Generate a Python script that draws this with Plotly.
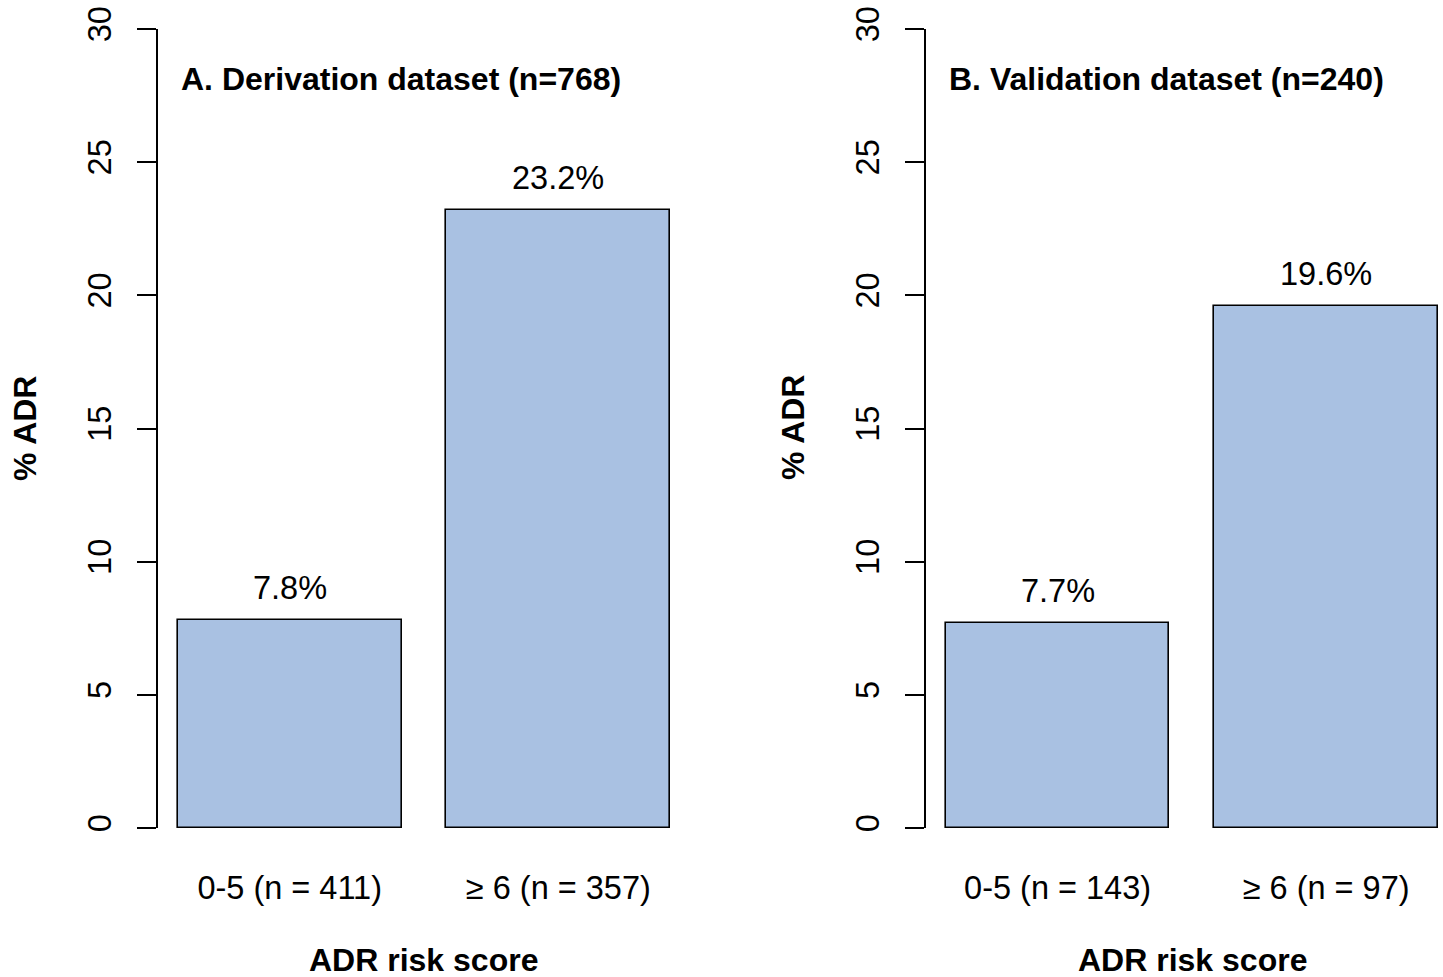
import plotly.graph_objects as go

categories_a = ["0-5 (n = 411)", "≥ 6 (n = 357)"]
values_a = [7.8, 23.2]
categories_b = ["0-5 (n = 143)", "≥ 6 (n = 97)"]
values_b = [7.7, 19.6]
titles = ["A. Derivation dataset (n=768)", "B. Validation dataset (n=240)"]
y_ticks = [0, 5, 10, 15, 20, 25, 30]
bar_pos = [0.7, 1.9]

W, H = 1443, 977
FONT = "Liberation Sans, Arial, Helvetica, sans-serif"
FS = 32.5
FSB = 32
BAR_COLOR = "#A9C1E2"

fig = go.Figure()

panels = [
    (categories_a, values_a, "x", "y", (158, 690), [0.112, 2.488]),
    (categories_b, values_b, "x2", "y2", (926, 1443), [0.112, 2.4223]),
]

y_dom = [1 - 828 / H, 1 - 29 / H]

for i, (cats, vals, xa, ya, (px0, px1), xr) in enumerate(panels):
    fig.add_trace(go.Bar(
        x=bar_pos, y=vals, width=1.0, xaxis=xa, yaxis=ya,
        marker=dict(color=BAR_COLOR, line=dict(color="black", width=1.6)),
        hoverinfo="skip", showlegend=False,
    ))
    suffix = "" if i == 0 else "2"
    fig.layout["xaxis" + suffix] = dict(
        domain=[px0 / W, px1 / W], range=xr, anchor=ya,
        tickvals=bar_pos, ticktext=cats, showgrid=False, zeroline=False,
        showline=False, ticks="", tickfont=dict(size=FS, family=FONT, color="black"),
        ticklabelstandoff=37, automargin=False, fixedrange=True,
    )
    fig.layout["yaxis" + suffix] = dict(
        domain=y_dom, range=[0, 30], anchor=xa,
        tickvals=y_ticks, ticktext=[str(t) for t in y_ticks], tickangle=-90,
        showgrid=False, zeroline=False, showline=True, linecolor="black", linewidth=1.6,
        ticks="outside", ticklen=19, tickwidth=1.6, tickcolor="black",
        tickfont=dict(size=FS, family=FONT, color="black"),
        ticklabelstandoff=13, automargin=False, fixedrange=True,
    )
    # value labels
    for xp, v in zip(bar_pos, vals):
        fig.add_annotation(x=xp, y=v + 1.2, xref=xa, yref=ya, text=f"{v}%",
                           showarrow=False, yanchor="middle", xanchor="center",
                           font=dict(size=FS, family=FONT, color="black"))
    # panel title
    fig.add_annotation(x=(px0 + 21) / W, y=1 - 79 / H, xref="paper", yref="paper",
                       text="<b>" + titles[i] + "</b>", showarrow=False,
                       xanchor="left", yanchor="middle",
                       font=dict(size=FSB, family=FONT, color="black"))
    # y title
    fig.add_annotation(x=(25 if i == 0 else 793) / W, y=1 - 428 / H, xref="paper", yref="paper",
                       text="<b>% ADR</b>", showarrow=False, textangle=-90,
                       xanchor="center", yanchor="middle",
                       font=dict(size=FSB, family=FONT, color="black"))
    # x title
    xc = ((158 + 690) / 2) if i == 0 else ((926 + 1458) / 2)
    fig.add_annotation(x=xc / W, y=1 - 960 / H, xref="paper", yref="paper",
                       text="<b>ADR risk score</b>", showarrow=False,
                       xanchor="center", yanchor="middle",
                       font=dict(size=FSB, family=FONT, color="black"))

fig.update_layout(
    width=W, height=H, margin=dict(l=0, r=0, t=0, b=0),
    paper_bgcolor="white", plot_bgcolor="white", bargap=0,
    font=dict(family=FONT, color="black"),
)

fig.write_html("out.html", config={"displayModeBar": False})

# remove default page margins so the figure sits at the window's top-left corner
with open("out.html", "r", encoding="utf-8") as f:
    html = f.read()
html = html.replace("<head>", "<head><style>html,body{margin:0;padding:0;overflow:hidden;}</style>", 1)
with open("out.html", "w", encoding="utf-8") as f:
    f.write(html)
